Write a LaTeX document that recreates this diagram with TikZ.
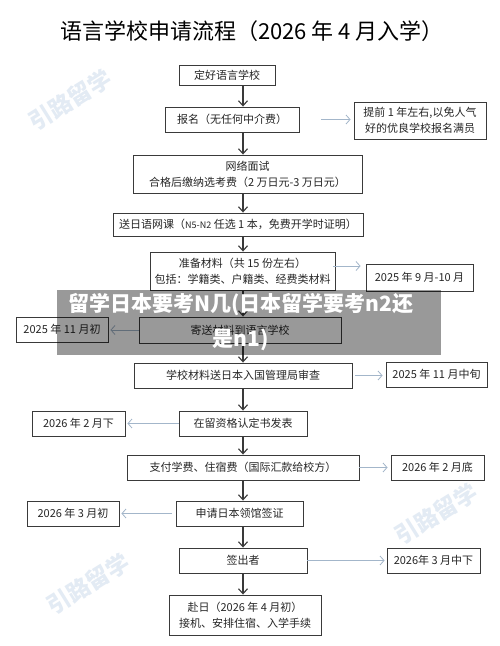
\documentclass[tikz,border=0pt]{standalone}
\usepackage{fontspec}
\setmainfont{Noto Sans CJK SC}
\newfontfamily\cjk{Noto Sans CJK SC}
\usetikzlibrary{arrows.meta}
\definecolor{boxline}{HTML}{3A3A3A}
\definecolor{sidearrow}{HTML}{A3B6CA}
\definecolor{wmark}{HTML}{E3EBF4}
\tikzset{
  box/.style={draw=boxline, line width=0.9pt, inner sep=0pt, align=center,
    font=\cjk\fontsize{11}{16}\selectfont, text=black!85},
  mainarrow/.style={draw=boxline, line width=1.3pt, -{Straight Barb[length=5pt,width=9pt,line width=1.1pt]}},
  sidearr/.style={draw=sidearrow, line width=0.9pt, -{Straight Barb[length=4pt,width=9pt,line width=0.8pt]}},
  wm/.style={text=wmark, font=\cjk\bfseries\fontsize{23}{23}\selectfont, rotate=32, inner sep=0pt}
}
\begin{document}
\begin{tikzpicture}[x=1pt,y=-1pt]
\useasboundingbox (0,0) rectangle (500,646);
\fill[white] (0,0) rectangle (500,646);
% watermarks (only where they clear the texts)
\node[wm] (w1) at (70,100) {引路留学};
\node[wm] (w7) at (88,584) {引路留学};
\node[wm] (w9) at (436,514) {引路留学};
% title
\node (title) at (252,31) {\cjk\fontsize{22}{22}\selectfont 语言学校申请流程（2026 年 4 月入学）};
\coordinate (axis) at (243,0);
% main boxes
\node[box, minimum width=96pt, minimum height=20pt] (b1) at (227,75) {定好语言学校};
\node[box, minimum width=134pt, minimum height=25pt] (b2) at (232,119.5) {报名（无任何中介费）};
\node[box, minimum width=229pt, minimum height=38pt] (b3) at (247.5,174) {网络面试\\合格后缴纳选考费（2 万日元-3 万日元）};
\node[box, minimum width=250pt, minimum height=23pt] (b4) at (238,224.5) {送日语网课（{\fontsize{9}{9}\selectfont N5-N2} 任选 1 本，免费开学时证明）};
\node[box, minimum width=185pt, minimum height=38pt] (b5) at (242.5,271) {准备材料（共 15 份左右）\\包括：学籍类、户籍类、经费类材料};
\node[box, minimum width=202pt, minimum height=26pt] (b6) at (240,330) {寄送材料到语言学校};
\node[box, minimum width=218pt, minimum height=25pt] (b7) at (243,375.5) {学校材料送日本入国管理局审查};
\node[box, minimum width=128pt, minimum height=25pt] (b8) at (243,423.5) {在留资格认定书发表};
\node[box, minimum width=232pt, minimum height=25pt] (b9) at (243,467.5) {支付学费、住宿费（国际汇款给校方）};
\node[box, minimum width=127pt, minimum height=25pt] (b10) at (239.5,513.5) {申请日本领馆签证};
\node[box, minimum width=128pt, minimum height=25pt] (b11) at (243,560.5) {签出者};
\node[box, minimum width=152pt, minimum height=40pt] (b12) at (245,615) {赴日（2026 年 4 月初）\\接机、安排住宿、入学手续};
% side boxes
\node[box, minimum width=132pt, minimum height=37pt] (r2) at (420,120.5) {提前 1 年左右,以免人气\\好的优良学校报名满员};
\node[box, minimum width=107pt, minimum height=27pt] (r5) at (419.5,277.5) {2025 年 9 月-10 月};
\node[box, minimum width=92pt, minimum height=25pt] (l6) at (62,329.5) {2025 年 11 月初};
\node[box, minimum width=101pt, minimum height=25pt] (r7) at (436.5,374.5) {2025 年 11 月中旬};
\node[box, minimum width=93pt, minimum height=25pt] (l8) at (78.5,423.5) {2026 年 2 月下};
\node[box, minimum width=93pt, minimum height=25pt] (r9) at (437.5,467.5) {2026 年 2 月底};
\node[box, minimum width=92pt, minimum height=25pt] (l10) at (73,513.5) {2026 年 3 月初};
\node[box, minimum width=93pt, minimum height=25pt] (r11) at (433.5,560.5) {2026年 3 月中下};
% main arrows
\foreach \a/\b in {b1/b2,b2/b3,b3/b4,b4/b5,b5/b6,b6/b7,b7/b8,b8/b9,b9/b10,b10/b11,b11/b12}
  \draw[mainarrow] (\a.south -| axis) -- (\b.north -| axis);
% side arrows
\draw[sidearr, shorten <=22pt, shorten >=3pt] (b2.east) -- (b2.east -| r2.west);
\draw[sidearr, shorten <=-2pt, shorten >=5pt] ([yshift=5pt]b5.east) -- ([yshift=5pt]b5.east -| r5.west);
\draw[sidearr, shorten >=2pt] (b6.west) -- (b6.west -| l6.east);
\draw[sidearr, shorten <=3pt, shorten >=3pt] (b7.east) -- (b7.east -| r7.west);
\draw[sidearr, shorten >=2pt] (b8.west) -- (b8.west -| l8.east);
\draw[sidearr, shorten >=3pt] (b9.east) -- (b9.east -| r9.west);
\draw[sidearr, shorten <=4pt, shorten >=2pt] (b10.west) -- (b10.west -| l10.east);
\draw[sidearr, shorten >=2pt] (b11.east) -- (b11.east -| r11.west);
% banner overlay
\fill[black, fill opacity=0.4] (57,290) rectangle (441,355);
\node[text=white, font=\cjk\bfseries\fontsize{21}{35}\selectfont, align=center] (banner) at (241,322) {留学日本要考N几(日本留学要考n2还\\是n1)};
\end{tikzpicture}
\end{document}
